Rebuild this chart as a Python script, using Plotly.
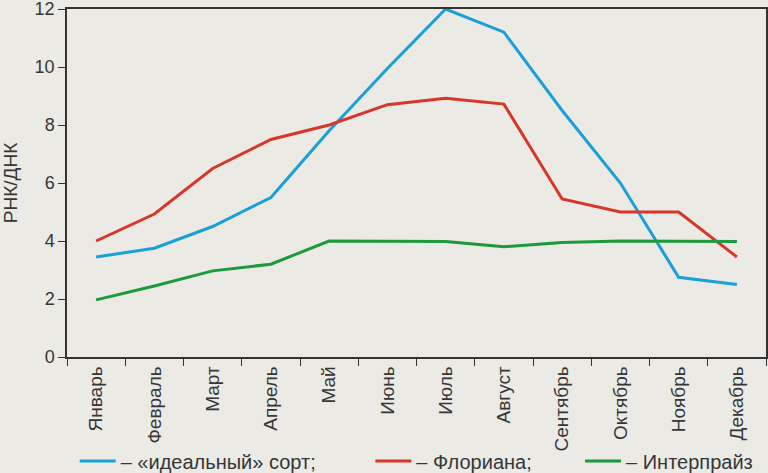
import plotly.graph_objects as go

months = ["Январь", "Февраль", "Март", "Апрель", "Май", "Июнь", "Июль",
          "Август", "Сентябрь", "Октябрь", "Ноябрь", "Декабрь"]
ideal = [3.45, 3.75, 4.5, 5.5, 7.8, 9.95, 12.0, 11.2, 8.5, 6.0, 2.75, 2.5]
floriana = [4.0, 4.93, 6.5, 7.5, 8.0, 8.7, 8.92, 8.72, 5.45, 5.0, 5.0, 3.45]
enterprise = [1.97, 2.45, 2.97, 3.2, 4.0, 4.0, 3.98, 3.8, 3.95, 4.0, 3.98, 3.98]

names = ["– «идеальный» сорт;", "– Флориана;", "– Интерпрайз"]
colors = ["#1aa0d8", "#d9362b", "#1c9a3c"]
series = [ideal, floriana, enterprise]
legend_ids = ["legend", "legend2", "legend3"]

fig = go.Figure()
for name, col, vals, lg in zip(names, colors, series, legend_ids):
    fig.add_trace(go.Scatter(x=months, y=vals, mode="lines", name=name,
                             line=dict(color=col, width=3), legend=lg))

bg = "#ebeae5"
font = dict(family="Liberation Sans, Arial, sans-serif", size=18, color="#363636")

def leg(x):
    return dict(orientation="h", x=x, y=-0.299, xanchor="left", yanchor="middle",
                bgcolor="rgba(0,0,0,0)", font=dict(size=20), borderwidth=0,
                itemwidth=36)

fig.update_layout(
    width=768, height=473,
    margin=dict(l=67, r=2, t=9, b=116, autoexpand=False),
    paper_bgcolor=bg, plot_bgcolor=bg,
    font=font,
    showlegend=True,
    legend=leg(0.011),
    legend2=leg(0.434),
    legend3=leg(0.734),
    xaxis=dict(type="category", range=[-0.5, 11.5], tickson="boundaries",
               ticks="outside", ticklen=7, tickcolor="#333333", tickangle=-90,
               showline=True, linecolor="#333333", linewidth=1.5, mirror=True,
               showgrid=False, tickfont=dict(size=19), zeroline=False,
               automargin=False),
    yaxis=dict(range=[0, 12], dtick=2, ticks="outside", ticklen=7,
               tickcolor="#333333", showline=True, linecolor="#333333",
               linewidth=1.5, mirror=True, showgrid=False, zeroline=False,
               tickfont=dict(size=18), automargin=False,
               ticklabeloverflow="allow",
               title=dict(text="РНК/ДНК", font=dict(size=19), standoff=16)),
)

fig.write_html("out.html", config={"displayModeBar": False},
               post_script="document.body.style.margin='0';document.body.style.background='#ebeae5';")
